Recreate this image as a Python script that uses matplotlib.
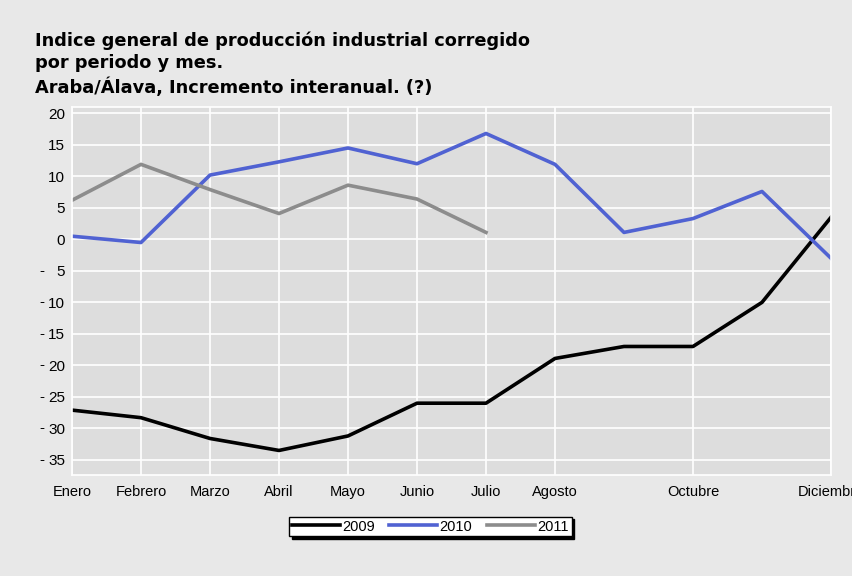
import numpy as np
import matplotlib.pyplot as plt
import matplotlib.transforms as mtransforms

# Month categories and which of them carry a label
meses = ['Enero', 'Febrero', 'Marzo', 'Abril', 'Mayo', 'Junio', 'Julio',
         'Agosto', 'Septiembre', 'Octubre', 'Noviembre', 'Diciembre']
meses_visibles = ['Enero', 'Febrero', 'Marzo', 'Abril', 'Mayo', 'Junio', 'Julio',
                  'Agosto', 'Octubre', 'Diciembre']

# Year-on-year increments
serie_2009 = [-27.1, -28.3, -31.6, -33.5, -31.2, -26.0, -26.0, -18.9, -17.0, -17.0, -10.0, 3.5]
serie_2010 = [0.5, -0.5, 10.2, 12.3, 14.5, 12.0, 16.8, 11.9, 1.1, 3.3, 7.6, -3.0]
serie_2011 = [6.2, 11.9, 7.9, 4.1, 8.6, 6.4, 1.1]

y_ticks = [20, 15, 10, 5, 0, -5, -10, -15, -20, -25, -30, -35]

sans = ['Liberation Sans', 'DejaVu Sans']

fig = plt.figure(figsize=(8.53, 5.76), dpi=100)
fig.patch.set_facecolor('#e8e8e8')
ax = fig.add_axes([0.0844, 0.1753, 0.8898, 0.6389])
ax.set_facecolor('#dddddd')

x = np.arange(len(meses))
ax.plot(x, serie_2009, color='black', lw=2.6, label='2009')
ax.plot(x, serie_2010, color='#5062d2', lw=2.6, label='2010')
ax.plot(np.arange(len(serie_2011)), serie_2011, color='#8c8c8c', lw=2.6, label='2011')

ax.set_xlim(0, len(meses) - 1)
ax.set_ylim(-37.4, 21)

# vertical grid only on labelled months
pos_vis = [meses.index(m) for m in meses_visibles]
for p in pos_vis:
    ax.axvline(p, color='white', lw=1.2, zorder=0.5)
for v in y_ticks:
    ax.axhline(v, color='white', lw=1.2, zorder=0.5)

ax.set_xticks(pos_vis)
ax.set_xticklabels(meses_visibles, fontsize=10.5, family=sans)
ax.set_yticks(y_ticks)
ax.set_yticklabels([str(abs(v)) for v in y_ticks], fontsize=11, family=sans)
ax.tick_params(length=0)
ax.tick_params(axis='y', pad=5)
ax.tick_params(axis='x', pad=7)

# detached minus signs on negative tick labels
trans = mtransforms.blended_transform_factory(ax.transAxes, ax.transData)
for v in y_ticks:
    if v < 0:
        ax.text(-0.04, v, '-', transform=trans, ha='center', va='center',
                fontsize=11, family=sans)

for s in ax.spines.values():
    s.set_color('white')
    s.set_linewidth(1.2)

fig.text(0.041, 0.945, 'Indice general de producción industrial corregido\n'
         'por periodo y mes.\nAraba/Álava, Incremento interanual. (?)',
         fontsize=12.8, fontweight='bold', va='top', ha='left', linespacing=1.3,
         family=['DejaVu Sans'])

leg = ax.legend(loc='center', bbox_to_anchor=(0.472, -0.14), ncol=3,
                prop={'family': sans, 'size': 10.5},
                frameon=True, fancybox=False, shadow={'color': 'black', 'alpha': 1},
                handlelength=3.3, handletextpad=0.15, columnspacing=1.0,
                borderpad=0.2, borderaxespad=0.2, edgecolor='black')
leg.get_frame().set_linewidth(1.0)

fig.savefig('out.png', dpi=100, facecolor=fig.get_facecolor())
